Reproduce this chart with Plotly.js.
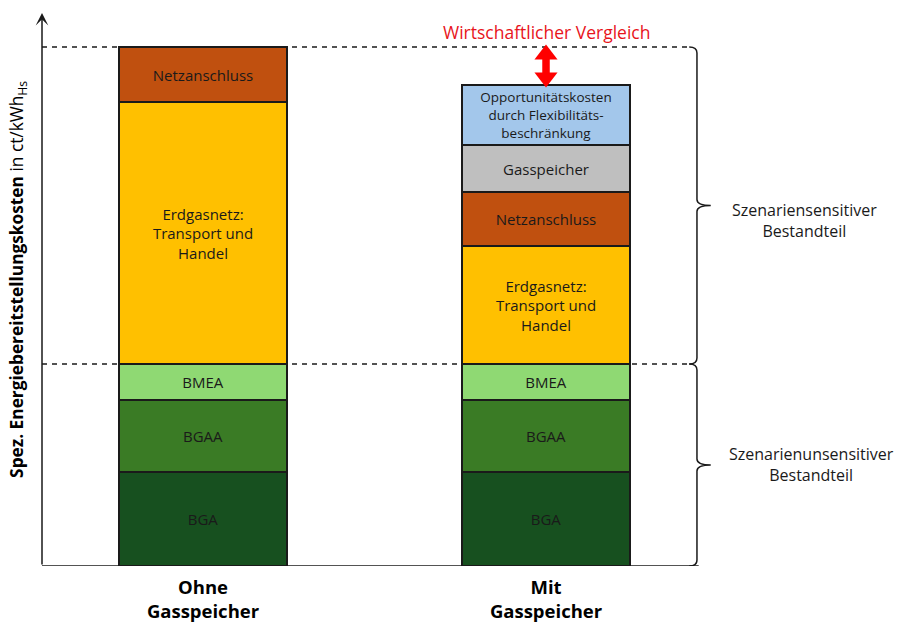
<!DOCTYPE html>
<html>
<head>
<meta charset="utf-8">
<script src="https://cdn.plot.ly/plotly-3.0.1.min.js"></script>
<style>html,body{margin:0;padding:0;background:#fff;}#chart{width:903px;height:622px;}</style>
</head>
<body>
<div id="chart"></div>
<script>
// Categories (scenarios)
const categories = ["Ohne<br>Gasspeicher", "Mit<br>Gasspeicher"];
const categoryLabels = ["<b>Ohne</b><br><b>Gasspeicher</b>", "<b>Mit</b><br><b>Gasspeicher</b>"];

// Segment values (relative units; no y scale shown)
const BGA            = [94, 94];
const BGAA           = [72, 72];
const BMEA           = [36, 36];
const Erdgasnetz     = [262, 118];
const Netzanschluss  = [55, 54];
const Gasspeicher    = [null, 47];
const Opportunitaet  = [null, 60];

const segmentNames = ["BGA", "BGAA", "BMEA", "Erdgasnetz: Transport und Handel", "Netzanschluss", "Gasspeicher", "Opportunitätskosten durch Flexibilitätsbeschränkung"];
const segmentLabels = ["BGA", "BGAA", "BMEA", "Erdgasnetz:<br>Transport und<br>Handel", "Netzanschluss", "Gasspeicher", "Opportunitätskosten<br>durch Flexibilitäts-<br>beschränkung"];
const segmentValues = [BGA, BGAA, BMEA, Erdgasnetz, Netzanschluss, Gasspeicher, Opportunitaet];
const segmentColors = ["#17501f", "#3a7b25", "#8fd973", "#ffc000", "#c0500f", "#bfbfbf", "#a3c7eb"];
const segmentFontSizes = [15, 15, 15, 15, 15, 15, 13.5];

const FONT = "Open Sans, Liberation Sans, sans-serif";

const traces = segmentValues.map((vals, i) => ({
  type: "bar",
  name: segmentNames[i],
  x: categories,
  y: vals,
  text: vals.map(v => v == null ? "" : segmentLabels[i]),
  textposition: "inside",
  insidetextanchor: "middle",
  textangle: 0,
  constraintext: "none",
  textfont: {family: FONT, size: segmentFontSizes[i], color: "#1a1a1a"},
  marker: {color: segmentColors[i], line: {color: "#1a1a1a", width: 1.5}},
  width: 0.49,
  hoverinfo: "skip"
}));

const sum = arr => arr.reduce((a, b) => a + (b || 0), 0);
const totalLeft = sum(segmentValues.map(v => v[0]));
const totalRight = sum(segmentValues.map(v => v[1]));
const baseTop = BGA[0] + BGAA[0] + BMEA[0];

// red double arrow (economic comparison) between the two totals
const headLen = 11;
traces.push({
  type: "scatter", mode: "lines", x: [categories[1], categories[1]],
  y: [totalLeft - headLen, totalRight + headLen],
  line: {color: "#ff0000", width: 7.5}, hoverinfo: "skip"
});
traces.push({
  type: "scatter", mode: "markers", x: [categories[1], categories[1]],
  y: [totalLeft - 7.5, totalRight + 7.5],
  marker: {symbol: ["triangle-up", "triangle-down"], size: 20, color: "#ff0000", line: {width: 0}},
  hoverinfo: "skip"
});

const braceX = 0.7607;   // paper
function brace(y0, y1) {
  const ym = (y0 + y1) / 2;
  const dx = 0.009, tip = 0.016;
  const dy = 6;
  return `M ${braceX - dx},${y1} Q ${braceX},${y1} ${braceX},${y1 - dy} L ${braceX},${ym + dy} Q ${braceX},${ym} ${braceX + tip},${ym} Q ${braceX},${ym} ${braceX},${ym - dy} L ${braceX},${y0 + dy} Q ${braceX},${y0} ${braceX - dx},${y0}`;
}

const layout = {
  width: 903, height: 622,
  margin: {l: 42, r: 0, t: 10, b: 56},
  paper_bgcolor: "#fff", plot_bgcolor: "#fff",
  barmode: "stack",
  showlegend: false,
  font: {family: FONT, color: "#000"},
  xaxis: {
    type: "category",
    range: [-0.4694, 2.0408],
    tickvals: categories, ticktext: categoryLabels,
    tickfont: {family: FONT, size: 18.5, color: "#000"},
    ticklabelstandoff: 8,
    ticks: "", showline: false, showgrid: false, zeroline: false, fixedrange: true
  },
  yaxis: {
    range: [0, 556],
    showticklabels: false, ticks: "", showline: false, showgrid: false, zeroline: false, fixedrange: true
  },
  shapes: [
    // x-axis line
    {type: "line", xref: "paper", yref: "y", x0: 0, x1: braceX + 0.002, y0: 0, y1: 0, line: {color: "#1a1a1a", width: 1.5}},
    // dashed reference lines
    {type: "line", xref: "paper", yref: "y", x0: 0, x1: braceX - 0.009, y0: totalLeft, y1: totalLeft, line: {color: "#1a1a1a", width: 1.3, dash: "5px,5px"}, layer: "below"},
    {type: "line", xref: "paper", yref: "y", x0: 0, x1: braceX - 0.009, y0: baseTop, y1: baseTop, line: {color: "#1a1a1a", width: 1.3, dash: "5px,5px"}, layer: "below"},
    // braces
    {type: "path", xref: "paper", yref: "y", path: brace(baseTop, totalLeft), line: {color: "#1a1a1a", width: 1.5}},
    {type: "path", xref: "paper", yref: "y", path: brace(0, baseTop), line: {color: "#1a1a1a", width: 1.5}}
  ],
  annotations: [
    // y axis with arrow
    {xref: "paper", yref: "y", x: 0, y: 553, axref: "pixel", ayref: "y", ax: 0, ay: 0,
     text: "", showarrow: true, arrowhead: 3, arrowsize: 1.4, arrowwidth: 1.5, arrowcolor: "#1a1a1a"},
    // y axis title
    {xref: "paper", yref: "y", x: -0.028, y: 287, xanchor: "center", yanchor: "middle", textangle: -90, showarrow: false,
     text: "<b>Spez. Energiebereitstellungskosten</b> in ct/kWh<sub>Hs</sub>", font: {family: FONT, size: 17.3, color: "#000"}},
    {xref: "x", yref: "y", x: 1, y: 534, showarrow: false, text: "Wirtschaftlicher Vergleich",
     font: {family: FONT, size: 17.5, color: "#e8141b"}},
    // brace labels
    {xref: "paper", yref: "y", x: 0.886, xanchor: "center", y: 346, showarrow: false, align: "center",
     text: "Szenariensensitiver<br>Bestandteil", font: {family: FONT, size: 16, color: "#1a1a1a"}},
    {xref: "paper", yref: "y", x: 0.894, xanchor: "center", y: 102, showarrow: false, align: "center",
     text: "Szenarienunsensitiver<br>Bestandteil", font: {family: FONT, size: 16, color: "#1a1a1a"}}
  ]
};

Plotly.newPlot("chart", traces, layout, {displayModeBar: false, staticPlot: true});
</script>
</body>
</html>
